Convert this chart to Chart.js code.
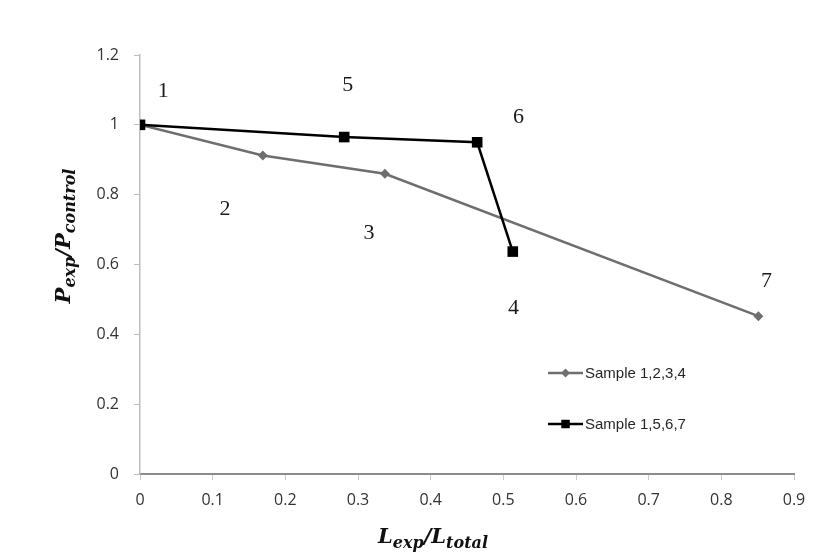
<!DOCTYPE html>
<html lang="en">
<head>
    <meta charset="UTF-8">
    <title>P_exp / P_control vs L_exp / L_total</title>
    <script src="https://cdn.jsdelivr.net/npm/chart.js"></script>
    <style>
        html, body {
            margin: 0;
            padding: 0;
            background: #fff;
        }
        #wrap {
            width: 840px;
            height: 559px;
        }
    </style>
</head>
<body>
<div id="wrap"><canvas id="ratioChart" width="840" height="559"></canvas></div>

<script>
    // data
    var seriesNames = ['Sample 1,2,3,4', 'Sample 1,5,6,7'];
    var sampleAX = [0, 0.169, 0.337, 0.851];
    var sampleAY = [1, 0.912, 0.860, 0.452];
    var sampleBX = [0, 0.281, 0.464, 0.513];
    var sampleBY = [1, 0.965, 0.950, 0.637];

    // sample number labels and where they sit (data units)
    var pointLabels = ['1', '2', '3', '4', '5', '6', '7'];
    var pointLabelX = [0.032, 0.117, 0.315, 0.514, 0.286, 0.521, 0.862];
    var pointLabelY = [1.096, 0.757, 0.691, 0.475, 1.114, 1.022, 0.551];

    var xTicks = [0, 0.1, 0.2, 0.3, 0.4, 0.5, 0.6, 0.7, 0.8, 0.9];
    var yTicks = [0, 0.2, 0.4, 0.6, 0.8, 1, 1.2];

    function toPoints(xs, ys) {
        var pts = [];
        for (var i = 0; i < xs.length; i++) {
            pts.push({ x: xs[i], y: ys[i] });
        }
        return pts;
    }

    function fmt(v) {
        return String(Number(v.toFixed(1)));
    }

    // text with subscripts, e.g. P_exp / P_control
    function drawRich(ctx, parts, cx, cy) {
        var big = 'italic bold 21px "DejaVu Serif"';
        var small = 'italic bold 16px "DejaVu Serif"';
        var total = 0;
        parts.forEach(function (p) {
            ctx.font = p.sub ? small : big;
            p.w = ctx.measureText(p.t).width;
            total += p.w;
        });
        var x = cx - total / 2;
        ctx.textBaseline = 'alphabetic';
        ctx.textAlign = 'left';
        parts.forEach(function (p) {
            ctx.font = p.sub ? small : big;
            ctx.fillText(p.t, x, cy + (p.sub ? 5 : 0));
            x += p.w;
        });
    }

    var extras = {
        id: 'extras',
        afterDatasetsDraw: function (chart) {
            var ctx = chart.ctx;
            var xs = chart.scales.x;
            var ys = chart.scales.y;
            ctx.save();

            // sample numbers
            ctx.fillStyle = '#1a1a1a';
            ctx.font = '22px "Liberation Serif"';
            ctx.textAlign = 'center';
            ctx.textBaseline = 'middle';
            for (var i = 0; i < pointLabels.length; i++) {
                ctx.fillText(pointLabels[i], xs.getPixelForValue(pointLabelX[i]), ys.getPixelForValue(pointLabelY[i]));
            }

            // legend inside the plot
            var rows = [373, 424];
            var markSize = [4.5, 6];
            chart.data.datasets.forEach(function (ds, k) {
                var y = rows[k];
                ctx.strokeStyle = ds.borderColor;
                ctx.lineWidth = 2.5;
                ctx.beginPath();
                ctx.moveTo(548, y);
                ctx.lineTo(583, y);
                ctx.stroke();
                ctx.fillStyle = ds.pointBackgroundColor;
                Chart.helpers.drawPoint(ctx, {
                    pointStyle: ds.pointStyle,
                    radius: markSize[k],
                    borderWidth: 0
                }, 565.5, y);
                ctx.fillStyle = '#262626';
                ctx.font = '15px "Liberation Sans"';
                ctx.textAlign = 'left';
                ctx.textBaseline = 'middle';
                ctx.fillText(ds.label, 585, y + 1);
            });

            // axis titles
            ctx.fillStyle = '#111';
            drawRich(ctx, [
                { t: 'L' }, { t: 'exp', sub: true }, { t: '/' },
                { t: 'L' }, { t: 'total', sub: true }
            ], 433, 543);

            ctx.translate(70, 236);
            ctx.rotate(-Math.PI / 2);
            drawRich(ctx, [
                { t: 'P' }, { t: 'exp', sub: true }, { t: '/' },
                { t: 'P' }, { t: 'control', sub: true }
            ], 0, 0);

            ctx.restore();
        }
    };

    var ctx = document.getElementById('ratioChart').getContext('2d');
    var chart = new Chart(ctx, {
        type: 'line',
        data: {
            datasets: [{
                label: seriesNames[0],
                data: toPoints(sampleAX, sampleAY),
                borderColor: '#6e6e6e',
                backgroundColor: '#6e6e6e',
                pointBackgroundColor: '#6e6e6e',
                pointBorderWidth: 0,
                pointStyle: 'rectRot',
                pointRadius: 5,
                borderWidth: 2.5,
                tension: 0,
                order: 1
            }, {
                label: seriesNames[1],
                data: toPoints(sampleBX, sampleBY),
                borderColor: '#000000',
                backgroundColor: '#000000',
                pointBackgroundColor: '#000000',
                pointBorderWidth: 0,
                pointStyle: 'rect',
                pointRadius: 7.5,
                borderWidth: 2.5,
                tension: 0,
                order: 0
            }]
        },
        plugins: [extras],
        options: {
            responsive: false,
            animation: false,
            events: [],
            layout: {
                padding: { top: 55, right: 46, left: 0, bottom: 0 }
            },
            plugins: {
                legend: { display: false },
                tooltip: { enabled: false }
            },
            scales: {
                x: {
                    type: 'linear',
                    min: 0,
                    max: 0.9,
                    afterFit: function (s) { s.height = 85; },
                    afterBuildTicks: function (s) {
                        s.ticks = xTicks.map(function (v) { return { value: v }; });
                    },
                    ticks: {
                        callback: fmt,
                        color: '#333333',
                        font: { family: '"Open Sans"', size: 16 },
                        padding: 11,
                        maxRotation: 0
                    },
                    grid: {
                        drawOnChartArea: false,
                        tickLength: 6,
                        color: '#c8c8c8'
                    },
                    border: { color: '#8c8c8c', width: 2 }
                },
                y: {
                    type: 'linear',
                    min: 0,
                    max: 1.2,
                    afterFit: function (s) { s.width = 140; },
                    afterBuildTicks: function (s) {
                        s.ticks = yTicks.map(function (v) { return { value: v }; });
                    },
                    ticks: {
                        callback: fmt,
                        color: '#333333',
                        font: { family: '"Open Sans"', size: 16 },
                        padding: 15
                    },
                    grid: {
                        drawOnChartArea: false,
                        tickLength: 6,
                        color: '#bdbdbd'
                    },
                    border: { color: '#bdbdbd', width: 1.5 }
                }
            }
        }
    });
</script>
</body>
</html>
